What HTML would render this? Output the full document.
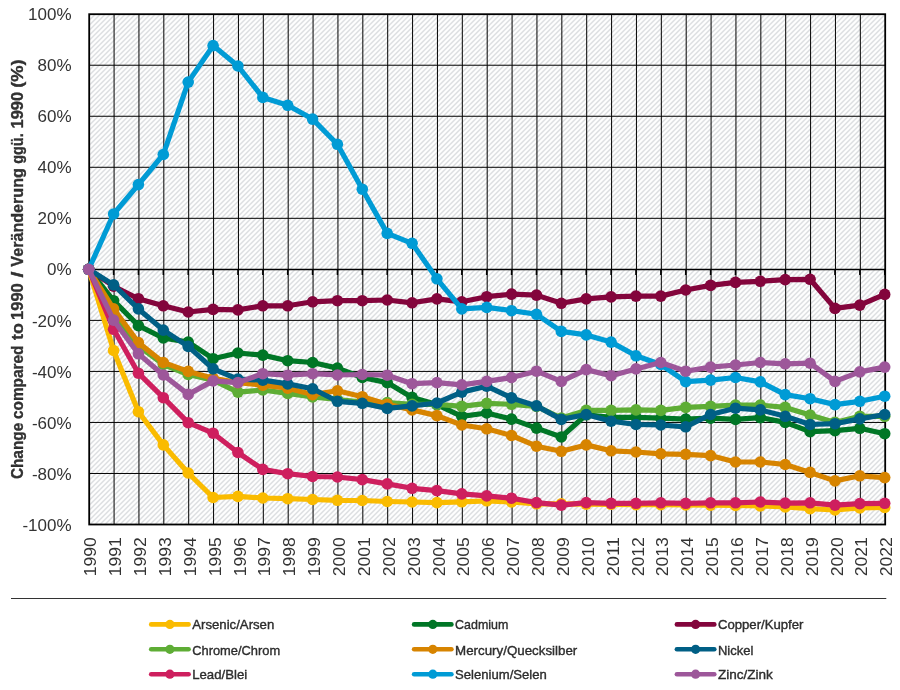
<!DOCTYPE html>
<html lang="de"><head><meta charset="utf-8"><title>Heavy metal emissions</title>
<style>html,body{margin:0;padding:0;background:#fff}svg{display:block}text{font-family:"Liberation Sans",sans-serif;fill:#333333}</style></head><body>
<svg width="900" height="690" viewBox="0 0 900 690">
<defs><pattern id="h" x="-0.5" y="0" width="5" height="5" patternUnits="userSpaceOnUse"><path d="M-1,6 L6,-1 M-1,1 L1,-1 M4,6 L6,4" stroke="#ced1d4" stroke-width="1.1" fill="none"/></pattern></defs>
<rect width="900" height="690" fill="#fff"/>
<rect x="89.20" y="14.20" width="796.00" height="510.30" fill="url(#h)"/>
<path d="M89.20,65.23 H885.20 M89.20,116.26 H885.20 M89.20,167.29 H885.20 M89.20,218.32 H885.20 M89.20,320.38 H885.20 M89.20,371.41 H885.20 M89.20,422.44 H885.20 M89.20,473.47 H885.20 M114.08,14.20 V524.50 M138.95,14.20 V524.50 M163.82,14.20 V524.50 M188.70,14.20 V524.50 M213.57,14.20 V524.50 M238.45,14.20 V524.50 M263.32,14.20 V524.50 M288.20,14.20 V524.50 M313.07,14.20 V524.50 M337.95,14.20 V524.50 M362.82,14.20 V524.50 M387.70,14.20 V524.50 M412.57,14.20 V524.50 M437.45,14.20 V524.50 M462.32,14.20 V524.50 M487.20,14.20 V524.50 M512.08,14.20 V524.50 M536.95,14.20 V524.50 M561.83,14.20 V524.50 M586.70,14.20 V524.50 M611.58,14.20 V524.50 M636.45,14.20 V524.50 M661.33,14.20 V524.50 M686.20,14.20 V524.50 M711.08,14.20 V524.50 M735.95,14.20 V524.50 M760.83,14.20 V524.50 M785.70,14.20 V524.50 M810.58,14.20 V524.50 M835.45,14.20 V524.50 M860.33,14.20 V524.50" stroke="#000" stroke-width="1" fill="none"/>
<path d="M89.20,269.60 H885.20 M88.70,269.60 v5.5 M113.58,269.60 v5.5 M138.45,269.60 v5.5 M163.32,269.60 v5.5 M188.20,269.60 v5.5 M213.07,269.60 v5.5 M237.95,269.60 v5.5 M262.82,269.60 v5.5 M287.70,269.60 v5.5 M312.57,269.60 v5.5 M337.45,269.60 v5.5 M362.32,269.60 v5.5 M387.20,269.60 v5.5 M412.07,269.60 v5.5 M436.95,269.60 v5.5 M461.82,269.60 v5.5 M486.70,269.60 v5.5 M511.58,269.60 v5.5 M536.45,269.60 v5.5 M561.33,269.60 v5.5 M586.20,269.60 v5.5 M611.08,269.60 v5.5 M635.95,269.60 v5.5 M660.83,269.60 v5.5 M685.70,269.60 v5.5 M710.58,269.60 v5.5 M735.45,269.60 v5.5 M760.33,269.60 v5.5 M785.20,269.60 v5.5 M810.08,269.60 v5.5 M834.95,269.60 v5.5 M859.83,269.60 v5.5 M884.70,269.60 v5.5" stroke="#000" stroke-width="1.5" fill="none"/>
<rect x="89.20" y="14.20" width="796.00" height="510.30" fill="none" stroke="#000" stroke-width="1.8"/>
<g fill="#FABB00"><polyline points="88.7,269.3 113.6,350.5 138.4,411.7 163.3,444.9 188.2,473.0 213.1,497.5 237.9,496.4 262.8,498.0 287.7,498.7 312.6,499.5 337.4,500.3 362.3,500.5 387.2,501.5 412.1,502.0 436.9,502.6 461.8,501.8 486.7,500.8 511.6,502.0 536.5,503.8 561.3,503.8 586.2,504.1 611.1,504.3 636.0,504.6 660.8,504.6 685.7,504.9 710.6,505.1 735.5,505.4 760.3,505.9 785.2,506.9 810.1,508.7 835.0,510.0 859.8,507.9 884.7,507.4" fill="none" stroke="#FABB00" stroke-width="5.2" stroke-linejoin="round" stroke-linecap="round"/>
<circle cx="88.7" cy="269.3" r="5.8"/><circle cx="113.6" cy="350.5" r="5.8"/><circle cx="138.4" cy="411.7" r="5.8"/><circle cx="163.3" cy="444.9" r="5.8"/><circle cx="188.2" cy="473.0" r="5.8"/><circle cx="213.1" cy="497.5" r="5.8"/><circle cx="237.9" cy="496.4" r="5.8"/><circle cx="262.8" cy="498.0" r="5.8"/><circle cx="287.7" cy="498.7" r="5.8"/><circle cx="312.6" cy="499.5" r="5.8"/><circle cx="337.4" cy="500.3" r="5.8"/><circle cx="362.3" cy="500.5" r="5.8"/><circle cx="387.2" cy="501.5" r="5.8"/><circle cx="412.1" cy="502.0" r="5.8"/><circle cx="436.9" cy="502.6" r="5.8"/><circle cx="461.8" cy="501.8" r="5.8"/><circle cx="486.7" cy="500.8" r="5.8"/><circle cx="511.6" cy="502.0" r="5.8"/><circle cx="536.5" cy="503.8" r="5.8"/><circle cx="561.3" cy="503.8" r="5.8"/><circle cx="586.2" cy="504.1" r="5.8"/><circle cx="611.1" cy="504.3" r="5.8"/><circle cx="636.0" cy="504.6" r="5.8"/><circle cx="660.8" cy="504.6" r="5.8"/><circle cx="685.7" cy="504.9" r="5.8"/><circle cx="710.6" cy="505.1" r="5.8"/><circle cx="735.5" cy="505.4" r="5.8"/><circle cx="760.3" cy="505.9" r="5.8"/><circle cx="785.2" cy="506.9" r="5.8"/><circle cx="810.1" cy="508.7" r="5.8"/><circle cx="835.0" cy="510.0" r="5.8"/><circle cx="859.8" cy="507.9" r="5.8"/><circle cx="884.7" cy="507.4" r="5.8"/></g>
<g fill="#007626"><polyline points="88.7,269.3 113.6,300.7 138.4,325.7 163.3,338.0 188.2,342.1 213.1,358.7 237.9,353.0 262.8,355.1 287.7,360.7 312.6,362.5 337.4,368.1 362.3,377.5 387.2,382.6 412.1,397.4 436.9,404.6 461.8,416.3 486.7,413.0 511.6,419.1 536.5,428.1 561.3,437.0 586.2,414.8 611.1,417.3 636.0,417.3 660.8,418.1 685.7,419.1 710.6,418.1 735.5,419.4 760.3,417.6 785.2,422.4 810.1,431.6 835.0,430.6 859.8,428.3 884.7,433.7" fill="none" stroke="#007626" stroke-width="5.2" stroke-linejoin="round" stroke-linecap="round"/>
<circle cx="88.7" cy="269.3" r="5.8"/><circle cx="113.6" cy="300.7" r="5.8"/><circle cx="138.4" cy="325.7" r="5.8"/><circle cx="163.3" cy="338.0" r="5.8"/><circle cx="188.2" cy="342.1" r="5.8"/><circle cx="213.1" cy="358.7" r="5.8"/><circle cx="237.9" cy="353.0" r="5.8"/><circle cx="262.8" cy="355.1" r="5.8"/><circle cx="287.7" cy="360.7" r="5.8"/><circle cx="312.6" cy="362.5" r="5.8"/><circle cx="337.4" cy="368.1" r="5.8"/><circle cx="362.3" cy="377.5" r="5.8"/><circle cx="387.2" cy="382.6" r="5.8"/><circle cx="412.1" cy="397.4" r="5.8"/><circle cx="436.9" cy="404.6" r="5.8"/><circle cx="461.8" cy="416.3" r="5.8"/><circle cx="486.7" cy="413.0" r="5.8"/><circle cx="511.6" cy="419.1" r="5.8"/><circle cx="536.5" cy="428.1" r="5.8"/><circle cx="561.3" cy="437.0" r="5.8"/><circle cx="586.2" cy="414.8" r="5.8"/><circle cx="611.1" cy="417.3" r="5.8"/><circle cx="636.0" cy="417.3" r="5.8"/><circle cx="660.8" cy="418.1" r="5.8"/><circle cx="685.7" cy="419.1" r="5.8"/><circle cx="710.6" cy="418.1" r="5.8"/><circle cx="735.5" cy="419.4" r="5.8"/><circle cx="760.3" cy="417.6" r="5.8"/><circle cx="785.2" cy="422.4" r="5.8"/><circle cx="810.1" cy="431.6" r="5.8"/><circle cx="835.0" cy="430.6" r="5.8"/><circle cx="859.8" cy="428.3" r="5.8"/><circle cx="884.7" cy="433.7" r="5.8"/></g>
<g fill="#83053C"><polyline points="88.7,269.3 113.6,286.2 138.4,298.7 163.3,305.8 188.2,312.0 213.1,309.4 237.9,309.9 262.8,305.8 287.7,305.8 312.6,301.8 337.4,300.7 362.3,300.7 387.2,300.0 412.1,302.8 436.9,298.9 461.8,301.8 486.7,296.7 511.6,294.1 536.5,295.1 561.3,303.3 586.2,298.9 611.1,296.9 636.0,296.1 660.8,296.1 685.7,290.0 710.6,285.4 735.5,282.4 760.3,281.3 785.2,279.6 810.1,279.3 835.0,308.4 859.8,305.1 884.7,294.4" fill="none" stroke="#83053C" stroke-width="5.2" stroke-linejoin="round" stroke-linecap="round"/>
<circle cx="88.7" cy="269.3" r="5.8"/><circle cx="113.6" cy="286.2" r="5.8"/><circle cx="138.4" cy="298.7" r="5.8"/><circle cx="163.3" cy="305.8" r="5.8"/><circle cx="188.2" cy="312.0" r="5.8"/><circle cx="213.1" cy="309.4" r="5.8"/><circle cx="237.9" cy="309.9" r="5.8"/><circle cx="262.8" cy="305.8" r="5.8"/><circle cx="287.7" cy="305.8" r="5.8"/><circle cx="312.6" cy="301.8" r="5.8"/><circle cx="337.4" cy="300.7" r="5.8"/><circle cx="362.3" cy="300.7" r="5.8"/><circle cx="387.2" cy="300.0" r="5.8"/><circle cx="412.1" cy="302.8" r="5.8"/><circle cx="436.9" cy="298.9" r="5.8"/><circle cx="461.8" cy="301.8" r="5.8"/><circle cx="486.7" cy="296.7" r="5.8"/><circle cx="511.6" cy="294.1" r="5.8"/><circle cx="536.5" cy="295.1" r="5.8"/><circle cx="561.3" cy="303.3" r="5.8"/><circle cx="586.2" cy="298.9" r="5.8"/><circle cx="611.1" cy="296.9" r="5.8"/><circle cx="636.0" cy="296.1" r="5.8"/><circle cx="660.8" cy="296.1" r="5.8"/><circle cx="685.7" cy="290.0" r="5.8"/><circle cx="710.6" cy="285.4" r="5.8"/><circle cx="735.5" cy="282.4" r="5.8"/><circle cx="760.3" cy="281.3" r="5.8"/><circle cx="785.2" cy="279.6" r="5.8"/><circle cx="810.1" cy="279.3" r="5.8"/><circle cx="835.0" cy="308.4" r="5.8"/><circle cx="859.8" cy="305.1" r="5.8"/><circle cx="884.7" cy="294.4" r="5.8"/></g>
<g fill="#5EAD35"><polyline points="88.7,269.3 113.6,312.7 138.4,345.9 163.3,364.5 188.2,374.5 213.1,380.1 237.9,392.1 262.8,390.0 287.7,393.4 312.6,396.9 337.4,399.5 362.3,402.0 387.2,402.5 412.1,404.3 436.9,404.3 461.8,406.4 486.7,403.3 511.6,404.3 536.5,406.4 561.3,418.1 586.2,410.4 611.1,410.4 636.0,409.9 660.8,410.4 685.7,407.4 710.6,406.4 735.5,405.1 760.3,405.1 785.2,407.4 810.1,415.0 835.0,422.4 859.8,416.3 884.7,416.3" fill="none" stroke="#5EAD35" stroke-width="5.2" stroke-linejoin="round" stroke-linecap="round"/>
<circle cx="88.7" cy="269.3" r="5.8"/><circle cx="113.6" cy="312.7" r="5.8"/><circle cx="138.4" cy="345.9" r="5.8"/><circle cx="163.3" cy="364.5" r="5.8"/><circle cx="188.2" cy="374.5" r="5.8"/><circle cx="213.1" cy="380.1" r="5.8"/><circle cx="237.9" cy="392.1" r="5.8"/><circle cx="262.8" cy="390.0" r="5.8"/><circle cx="287.7" cy="393.4" r="5.8"/><circle cx="312.6" cy="396.9" r="5.8"/><circle cx="337.4" cy="399.5" r="5.8"/><circle cx="362.3" cy="402.0" r="5.8"/><circle cx="387.2" cy="402.5" r="5.8"/><circle cx="412.1" cy="404.3" r="5.8"/><circle cx="436.9" cy="404.3" r="5.8"/><circle cx="461.8" cy="406.4" r="5.8"/><circle cx="486.7" cy="403.3" r="5.8"/><circle cx="511.6" cy="404.3" r="5.8"/><circle cx="536.5" cy="406.4" r="5.8"/><circle cx="561.3" cy="418.1" r="5.8"/><circle cx="586.2" cy="410.4" r="5.8"/><circle cx="611.1" cy="410.4" r="5.8"/><circle cx="636.0" cy="409.9" r="5.8"/><circle cx="660.8" cy="410.4" r="5.8"/><circle cx="685.7" cy="407.4" r="5.8"/><circle cx="710.6" cy="406.4" r="5.8"/><circle cx="735.5" cy="405.1" r="5.8"/><circle cx="760.3" cy="405.1" r="5.8"/><circle cx="785.2" cy="407.4" r="5.8"/><circle cx="810.1" cy="415.0" r="5.8"/><circle cx="835.0" cy="422.4" r="5.8"/><circle cx="859.8" cy="416.3" r="5.8"/><circle cx="884.7" cy="416.3" r="5.8"/></g>
<g fill="#D78400"><polyline points="88.7,269.3 113.6,308.9 138.4,342.6 163.3,362.5 188.2,371.4 213.1,378.3 237.9,382.6 262.8,385.2 287.7,388.2 312.6,394.6 337.4,390.8 362.3,396.7 387.2,404.3 412.1,409.9 436.9,415.6 461.8,425.0 486.7,428.8 511.6,435.5 536.5,446.2 561.3,451.3 586.2,444.9 611.1,450.8 636.0,452.0 660.8,453.8 685.7,454.3 710.6,455.6 735.5,462.0 760.3,462.0 785.2,464.5 810.1,472.4 835.0,480.9 859.8,475.8 884.7,477.6" fill="none" stroke="#D78400" stroke-width="5.2" stroke-linejoin="round" stroke-linecap="round"/>
<circle cx="88.7" cy="269.3" r="5.8"/><circle cx="113.6" cy="308.9" r="5.8"/><circle cx="138.4" cy="342.6" r="5.8"/><circle cx="163.3" cy="362.5" r="5.8"/><circle cx="188.2" cy="371.4" r="5.8"/><circle cx="213.1" cy="378.3" r="5.8"/><circle cx="237.9" cy="382.6" r="5.8"/><circle cx="262.8" cy="385.2" r="5.8"/><circle cx="287.7" cy="388.2" r="5.8"/><circle cx="312.6" cy="394.6" r="5.8"/><circle cx="337.4" cy="390.8" r="5.8"/><circle cx="362.3" cy="396.7" r="5.8"/><circle cx="387.2" cy="404.3" r="5.8"/><circle cx="412.1" cy="409.9" r="5.8"/><circle cx="436.9" cy="415.6" r="5.8"/><circle cx="461.8" cy="425.0" r="5.8"/><circle cx="486.7" cy="428.8" r="5.8"/><circle cx="511.6" cy="435.5" r="5.8"/><circle cx="536.5" cy="446.2" r="5.8"/><circle cx="561.3" cy="451.3" r="5.8"/><circle cx="586.2" cy="444.9" r="5.8"/><circle cx="611.1" cy="450.8" r="5.8"/><circle cx="636.0" cy="452.0" r="5.8"/><circle cx="660.8" cy="453.8" r="5.8"/><circle cx="685.7" cy="454.3" r="5.8"/><circle cx="710.6" cy="455.6" r="5.8"/><circle cx="735.5" cy="462.0" r="5.8"/><circle cx="760.3" cy="462.0" r="5.8"/><circle cx="785.2" cy="464.5" r="5.8"/><circle cx="810.1" cy="472.4" r="5.8"/><circle cx="835.0" cy="480.9" r="5.8"/><circle cx="859.8" cy="475.8" r="5.8"/><circle cx="884.7" cy="477.6" r="5.8"/></g>
<g fill="#005F85"><polyline points="88.7,269.3 113.6,284.9 138.4,308.9 163.3,330.1 188.2,346.4 213.1,368.9 237.9,379.1 262.8,380.1 287.7,383.9 312.6,388.8 337.4,401.3 362.3,403.3 387.2,408.4 412.1,405.9 436.9,403.0 461.8,392.1 486.7,386.2 511.6,397.9 536.5,405.9 561.3,419.4 586.2,414.5 611.1,421.2 636.0,424.5 660.8,425.0 685.7,426.8 710.6,414.5 735.5,408.2 760.3,409.9 785.2,416.3 810.1,424.5 835.0,423.7 859.8,418.9 884.7,414.5" fill="none" stroke="#005F85" stroke-width="5.2" stroke-linejoin="round" stroke-linecap="round"/>
<circle cx="88.7" cy="269.3" r="5.8"/><circle cx="113.6" cy="284.9" r="5.8"/><circle cx="138.4" cy="308.9" r="5.8"/><circle cx="163.3" cy="330.1" r="5.8"/><circle cx="188.2" cy="346.4" r="5.8"/><circle cx="213.1" cy="368.9" r="5.8"/><circle cx="237.9" cy="379.1" r="5.8"/><circle cx="262.8" cy="380.1" r="5.8"/><circle cx="287.7" cy="383.9" r="5.8"/><circle cx="312.6" cy="388.8" r="5.8"/><circle cx="337.4" cy="401.3" r="5.8"/><circle cx="362.3" cy="403.3" r="5.8"/><circle cx="387.2" cy="408.4" r="5.8"/><circle cx="412.1" cy="405.9" r="5.8"/><circle cx="436.9" cy="403.0" r="5.8"/><circle cx="461.8" cy="392.1" r="5.8"/><circle cx="486.7" cy="386.2" r="5.8"/><circle cx="511.6" cy="397.9" r="5.8"/><circle cx="536.5" cy="405.9" r="5.8"/><circle cx="561.3" cy="419.4" r="5.8"/><circle cx="586.2" cy="414.5" r="5.8"/><circle cx="611.1" cy="421.2" r="5.8"/><circle cx="636.0" cy="424.5" r="5.8"/><circle cx="660.8" cy="425.0" r="5.8"/><circle cx="685.7" cy="426.8" r="5.8"/><circle cx="710.6" cy="414.5" r="5.8"/><circle cx="735.5" cy="408.2" r="5.8"/><circle cx="760.3" cy="409.9" r="5.8"/><circle cx="785.2" cy="416.3" r="5.8"/><circle cx="810.1" cy="424.5" r="5.8"/><circle cx="835.0" cy="423.7" r="5.8"/><circle cx="859.8" cy="418.9" r="5.8"/><circle cx="884.7" cy="414.5" r="5.8"/></g>
<g fill="#CE1F5E"><polyline points="88.7,269.3 113.6,329.3 138.4,373.2 163.3,397.7 188.2,422.7 213.1,433.2 237.9,452.5 262.8,469.4 287.7,473.7 312.6,476.5 337.4,477.0 362.3,479.6 387.2,483.9 412.1,488.3 436.9,490.6 461.8,493.9 486.7,495.9 511.6,498.2 536.5,502.6 561.3,505.1 586.2,502.6 611.1,503.3 636.0,503.3 660.8,502.8 685.7,503.3 710.6,502.8 735.5,502.8 760.3,502.0 785.2,503.1 810.1,502.8 835.0,505.1 859.8,503.6 884.7,503.3" fill="none" stroke="#CE1F5E" stroke-width="5.2" stroke-linejoin="round" stroke-linecap="round"/>
<circle cx="88.7" cy="269.3" r="5.8"/><circle cx="113.6" cy="329.3" r="5.8"/><circle cx="138.4" cy="373.2" r="5.8"/><circle cx="163.3" cy="397.7" r="5.8"/><circle cx="188.2" cy="422.7" r="5.8"/><circle cx="213.1" cy="433.2" r="5.8"/><circle cx="237.9" cy="452.5" r="5.8"/><circle cx="262.8" cy="469.4" r="5.8"/><circle cx="287.7" cy="473.7" r="5.8"/><circle cx="312.6" cy="476.5" r="5.8"/><circle cx="337.4" cy="477.0" r="5.8"/><circle cx="362.3" cy="479.6" r="5.8"/><circle cx="387.2" cy="483.9" r="5.8"/><circle cx="412.1" cy="488.3" r="5.8"/><circle cx="436.9" cy="490.6" r="5.8"/><circle cx="461.8" cy="493.9" r="5.8"/><circle cx="486.7" cy="495.9" r="5.8"/><circle cx="511.6" cy="498.2" r="5.8"/><circle cx="536.5" cy="502.6" r="5.8"/><circle cx="561.3" cy="505.1" r="5.8"/><circle cx="586.2" cy="502.6" r="5.8"/><circle cx="611.1" cy="503.3" r="5.8"/><circle cx="636.0" cy="503.3" r="5.8"/><circle cx="660.8" cy="502.8" r="5.8"/><circle cx="685.7" cy="503.3" r="5.8"/><circle cx="710.6" cy="502.8" r="5.8"/><circle cx="735.5" cy="502.8" r="5.8"/><circle cx="760.3" cy="502.0" r="5.8"/><circle cx="785.2" cy="503.1" r="5.8"/><circle cx="810.1" cy="502.8" r="5.8"/><circle cx="835.0" cy="505.1" r="5.8"/><circle cx="859.8" cy="503.6" r="5.8"/><circle cx="884.7" cy="503.3" r="5.8"/></g>
<g fill="#009BD5"><polyline points="88.7,269.3 113.6,214.0 138.4,184.6 163.3,154.5 188.2,82.1 213.1,45.6 237.9,66.0 262.8,97.4 287.7,105.3 312.6,119.1 337.4,144.3 362.3,189.2 387.2,233.4 412.1,243.3 436.9,278.8 461.8,308.9 486.7,307.4 511.6,310.7 536.5,314.3 561.3,331.4 586.2,334.9 611.1,342.1 636.0,355.8 660.8,364.5 685.7,381.6 710.6,380.1 735.5,377.5 760.3,381.9 785.2,394.6 810.1,398.7 835.0,404.6 859.8,401.3 884.7,396.2" fill="none" stroke="#009BD5" stroke-width="5.2" stroke-linejoin="round" stroke-linecap="round"/>
<circle cx="88.7" cy="269.3" r="5.8"/><circle cx="113.6" cy="214.0" r="5.8"/><circle cx="138.4" cy="184.6" r="5.8"/><circle cx="163.3" cy="154.5" r="5.8"/><circle cx="188.2" cy="82.1" r="5.8"/><circle cx="213.1" cy="45.6" r="5.8"/><circle cx="237.9" cy="66.0" r="5.8"/><circle cx="262.8" cy="97.4" r="5.8"/><circle cx="287.7" cy="105.3" r="5.8"/><circle cx="312.6" cy="119.1" r="5.8"/><circle cx="337.4" cy="144.3" r="5.8"/><circle cx="362.3" cy="189.2" r="5.8"/><circle cx="387.2" cy="233.4" r="5.8"/><circle cx="412.1" cy="243.3" r="5.8"/><circle cx="436.9" cy="278.8" r="5.8"/><circle cx="461.8" cy="308.9" r="5.8"/><circle cx="486.7" cy="307.4" r="5.8"/><circle cx="511.6" cy="310.7" r="5.8"/><circle cx="536.5" cy="314.3" r="5.8"/><circle cx="561.3" cy="331.4" r="5.8"/><circle cx="586.2" cy="334.9" r="5.8"/><circle cx="611.1" cy="342.1" r="5.8"/><circle cx="636.0" cy="355.8" r="5.8"/><circle cx="660.8" cy="364.5" r="5.8"/><circle cx="685.7" cy="381.6" r="5.8"/><circle cx="710.6" cy="380.1" r="5.8"/><circle cx="735.5" cy="377.5" r="5.8"/><circle cx="760.3" cy="381.9" r="5.8"/><circle cx="785.2" cy="394.6" r="5.8"/><circle cx="810.1" cy="398.7" r="5.8"/><circle cx="835.0" cy="404.6" r="5.8"/><circle cx="859.8" cy="401.3" r="5.8"/><circle cx="884.7" cy="396.2" r="5.8"/></g>
<g fill="#9D579A"><polyline points="88.7,269.3 113.6,320.1 138.4,353.8 163.3,375.0 188.2,394.4 213.1,380.9 237.9,382.6 262.8,373.7 287.7,375.2 312.6,373.7 337.4,375.0 362.3,374.5 387.2,375.2 412.1,383.7 436.9,382.6 461.8,384.9 486.7,381.4 511.6,377.5 536.5,371.2 561.3,381.4 586.2,369.6 611.1,375.7 636.0,368.9 660.8,362.5 685.7,371.2 710.6,367.1 735.5,365.0 760.3,362.5 785.2,363.8 810.1,363.2 835.0,381.4 859.8,371.9 884.7,367.1" fill="none" stroke="#9D579A" stroke-width="5.2" stroke-linejoin="round" stroke-linecap="round"/>
<circle cx="88.7" cy="269.3" r="5.8"/><circle cx="113.6" cy="320.1" r="5.8"/><circle cx="138.4" cy="353.8" r="5.8"/><circle cx="163.3" cy="375.0" r="5.8"/><circle cx="188.2" cy="394.4" r="5.8"/><circle cx="213.1" cy="380.9" r="5.8"/><circle cx="237.9" cy="382.6" r="5.8"/><circle cx="262.8" cy="373.7" r="5.8"/><circle cx="287.7" cy="375.2" r="5.8"/><circle cx="312.6" cy="373.7" r="5.8"/><circle cx="337.4" cy="375.0" r="5.8"/><circle cx="362.3" cy="374.5" r="5.8"/><circle cx="387.2" cy="375.2" r="5.8"/><circle cx="412.1" cy="383.7" r="5.8"/><circle cx="436.9" cy="382.6" r="5.8"/><circle cx="461.8" cy="384.9" r="5.8"/><circle cx="486.7" cy="381.4" r="5.8"/><circle cx="511.6" cy="377.5" r="5.8"/><circle cx="536.5" cy="371.2" r="5.8"/><circle cx="561.3" cy="381.4" r="5.8"/><circle cx="586.2" cy="369.6" r="5.8"/><circle cx="611.1" cy="375.7" r="5.8"/><circle cx="636.0" cy="368.9" r="5.8"/><circle cx="660.8" cy="362.5" r="5.8"/><circle cx="685.7" cy="371.2" r="5.8"/><circle cx="710.6" cy="367.1" r="5.8"/><circle cx="735.5" cy="365.0" r="5.8"/><circle cx="760.3" cy="362.5" r="5.8"/><circle cx="785.2" cy="363.8" r="5.8"/><circle cx="810.1" cy="363.2" r="5.8"/><circle cx="835.0" cy="381.4" r="5.8"/><circle cx="859.8" cy="371.9" r="5.8"/><circle cx="884.7" cy="367.1" r="5.8"/></g>
<text x="71.6" y="20.3" font-size="17" text-anchor="end">100%</text>
<text x="71.6" y="71.3" font-size="17" text-anchor="end">80%</text>
<text x="71.6" y="122.4" font-size="17" text-anchor="end">60%</text>
<text x="71.6" y="173.4" font-size="17" text-anchor="end">40%</text>
<text x="71.6" y="224.4" font-size="17" text-anchor="end">20%</text>
<text x="71.6" y="275.4" font-size="17" text-anchor="end">0%</text>
<text x="71.6" y="326.5" font-size="17" text-anchor="end">-20%</text>
<text x="71.6" y="377.5" font-size="17" text-anchor="end">-40%</text>
<text x="71.6" y="428.5" font-size="17" text-anchor="end">-60%</text>
<text x="71.6" y="479.6" font-size="17" text-anchor="end">-80%</text>
<text x="71.6" y="530.6" font-size="17" text-anchor="end">-100%</text>
<text transform="translate(96.3,576.3) rotate(-90)" font-size="17.2" textLength="39.2" lengthAdjust="spacingAndGlyphs">1990</text>
<text transform="translate(121.2,576.3) rotate(-90)" font-size="17.2" textLength="39.2" lengthAdjust="spacingAndGlyphs">1991</text>
<text transform="translate(146.0,576.3) rotate(-90)" font-size="17.2" textLength="39.2" lengthAdjust="spacingAndGlyphs">1992</text>
<text transform="translate(170.9,576.3) rotate(-90)" font-size="17.2" textLength="39.2" lengthAdjust="spacingAndGlyphs">1993</text>
<text transform="translate(195.8,576.3) rotate(-90)" font-size="17.2" textLength="39.2" lengthAdjust="spacingAndGlyphs">1994</text>
<text transform="translate(220.7,576.3) rotate(-90)" font-size="17.2" textLength="39.2" lengthAdjust="spacingAndGlyphs">1995</text>
<text transform="translate(245.5,576.3) rotate(-90)" font-size="17.2" textLength="39.2" lengthAdjust="spacingAndGlyphs">1996</text>
<text transform="translate(270.4,576.3) rotate(-90)" font-size="17.2" textLength="39.2" lengthAdjust="spacingAndGlyphs">1997</text>
<text transform="translate(295.3,576.3) rotate(-90)" font-size="17.2" textLength="39.2" lengthAdjust="spacingAndGlyphs">1998</text>
<text transform="translate(320.2,576.3) rotate(-90)" font-size="17.2" textLength="39.2" lengthAdjust="spacingAndGlyphs">1999</text>
<text transform="translate(345.1,576.3) rotate(-90)" font-size="17.2" textLength="39.2" lengthAdjust="spacingAndGlyphs">2000</text>
<text transform="translate(369.9,576.3) rotate(-90)" font-size="17.2" textLength="39.2" lengthAdjust="spacingAndGlyphs">2001</text>
<text transform="translate(394.8,576.3) rotate(-90)" font-size="17.2" textLength="39.2" lengthAdjust="spacingAndGlyphs">2002</text>
<text transform="translate(419.7,576.3) rotate(-90)" font-size="17.2" textLength="39.2" lengthAdjust="spacingAndGlyphs">2003</text>
<text transform="translate(444.6,576.3) rotate(-90)" font-size="17.2" textLength="39.2" lengthAdjust="spacingAndGlyphs">2004</text>
<text transform="translate(469.4,576.3) rotate(-90)" font-size="17.2" textLength="39.2" lengthAdjust="spacingAndGlyphs">2005</text>
<text transform="translate(494.3,576.3) rotate(-90)" font-size="17.2" textLength="39.2" lengthAdjust="spacingAndGlyphs">2006</text>
<text transform="translate(519.2,576.3) rotate(-90)" font-size="17.2" textLength="39.2" lengthAdjust="spacingAndGlyphs">2007</text>
<text transform="translate(544.1,576.3) rotate(-90)" font-size="17.2" textLength="39.2" lengthAdjust="spacingAndGlyphs">2008</text>
<text transform="translate(568.9,576.3) rotate(-90)" font-size="17.2" textLength="39.2" lengthAdjust="spacingAndGlyphs">2009</text>
<text transform="translate(593.8,576.3) rotate(-90)" font-size="17.2" textLength="39.2" lengthAdjust="spacingAndGlyphs">2010</text>
<text transform="translate(618.7,576.3) rotate(-90)" font-size="17.2" textLength="39.2" lengthAdjust="spacingAndGlyphs">2011</text>
<text transform="translate(643.6,576.3) rotate(-90)" font-size="17.2" textLength="39.2" lengthAdjust="spacingAndGlyphs">2012</text>
<text transform="translate(668.4,576.3) rotate(-90)" font-size="17.2" textLength="39.2" lengthAdjust="spacingAndGlyphs">2013</text>
<text transform="translate(693.3,576.3) rotate(-90)" font-size="17.2" textLength="39.2" lengthAdjust="spacingAndGlyphs">2014</text>
<text transform="translate(718.2,576.3) rotate(-90)" font-size="17.2" textLength="39.2" lengthAdjust="spacingAndGlyphs">2015</text>
<text transform="translate(743.1,576.3) rotate(-90)" font-size="17.2" textLength="39.2" lengthAdjust="spacingAndGlyphs">2016</text>
<text transform="translate(767.9,576.3) rotate(-90)" font-size="17.2" textLength="39.2" lengthAdjust="spacingAndGlyphs">2017</text>
<text transform="translate(792.8,576.3) rotate(-90)" font-size="17.2" textLength="39.2" lengthAdjust="spacingAndGlyphs">2018</text>
<text transform="translate(817.7,576.3) rotate(-90)" font-size="17.2" textLength="39.2" lengthAdjust="spacingAndGlyphs">2019</text>
<text transform="translate(842.6,576.3) rotate(-90)" font-size="17.2" textLength="39.2" lengthAdjust="spacingAndGlyphs">2020</text>
<text transform="translate(867.4,576.3) rotate(-90)" font-size="17.2" textLength="39.2" lengthAdjust="spacingAndGlyphs">2021</text>
<text transform="translate(892.3,576.3) rotate(-90)" font-size="17.2" textLength="39.2" lengthAdjust="spacingAndGlyphs">2022</text>
<g font-size="16" font-weight="bold" fill="#222" stroke="#222" stroke-width="0.3">
<text transform="translate(22.5,479.1) rotate(-90)" textLength="56.3" lengthAdjust="spacingAndGlyphs">Change</text>
<text transform="translate(22.5,418.9) rotate(-90)" textLength="73.2" lengthAdjust="spacingAndGlyphs">compared</text>
<text transform="translate(22.5,339.9) rotate(-90)" textLength="16.8" lengthAdjust="spacingAndGlyphs">to</text>
<text transform="translate(22.5,319.9) rotate(-90)" textLength="36.6" lengthAdjust="spacingAndGlyphs">1990</text>
<text transform="translate(22.5,277.4) rotate(-90) scale(1.35,1.08)">/</text>
<text transform="translate(22.5,266.7) rotate(-90)" textLength="98.6" lengthAdjust="spacingAndGlyphs">Veränderung</text>
<text transform="translate(22.5,163.8) rotate(-90)" textLength="30.5" lengthAdjust="spacingAndGlyphs">ggü.</text>
<text transform="translate(22.5,128.4) rotate(-90)" textLength="36.4" lengthAdjust="spacingAndGlyphs">1990</text>
<text transform="translate(22.5,87.8) rotate(-90)" textLength="28.4" lengthAdjust="spacingAndGlyphs">(%)</text>
</g>
<path d="M11,598.5 H886.3" stroke="#333" stroke-width="1"/>
<path d="M151.2,624.4 H188.6" stroke="#FABB00" stroke-width="4.6" stroke-linecap="round"/><circle cx="169.9" cy="624.4" r="4.6" fill="#FABB00"/>
<text x="192.2" y="629.0" font-size="13" fill="#222" stroke="#222" stroke-width="0.35" textLength="82.1" lengthAdjust="spacingAndGlyphs">Arsenic/Arsen</text>
<path d="M414.1,624.4 H451.4" stroke="#007626" stroke-width="4.6" stroke-linecap="round"/><circle cx="432.8" cy="624.4" r="4.6" fill="#007626"/>
<text x="455.1" y="629.0" font-size="13" fill="#222" stroke="#222" stroke-width="0.35" textLength="53.3" lengthAdjust="spacingAndGlyphs">Cadmium</text>
<path d="M676.9,624.4 H714.3" stroke="#83053C" stroke-width="4.6" stroke-linecap="round"/><circle cx="695.6" cy="624.4" r="4.6" fill="#83053C"/>
<text x="717.9" y="629.0" font-size="13" fill="#222" stroke="#222" stroke-width="0.35" textLength="85.6" lengthAdjust="spacingAndGlyphs">Copper/Kupfer</text>
<path d="M151.2,649.3 H188.6" stroke="#5EAD35" stroke-width="4.6" stroke-linecap="round"/><circle cx="169.9" cy="649.3" r="4.6" fill="#5EAD35"/>
<text x="192.2" y="654.5" font-size="13" fill="#222" stroke="#222" stroke-width="0.35" textLength="88.0" lengthAdjust="spacingAndGlyphs">Chrome/Chrom</text>
<path d="M414.1,649.3 H451.4" stroke="#D78400" stroke-width="4.6" stroke-linecap="round"/><circle cx="432.8" cy="649.3" r="4.6" fill="#D78400"/>
<text x="455.1" y="654.5" font-size="13" fill="#222" stroke="#222" stroke-width="0.35" textLength="122.2" lengthAdjust="spacingAndGlyphs">Mercury/Quecksilber</text>
<path d="M676.9,649.3 H714.3" stroke="#005F85" stroke-width="4.6" stroke-linecap="round"/><circle cx="695.6" cy="649.3" r="4.6" fill="#005F85"/>
<text x="717.9" y="654.5" font-size="13" fill="#222" stroke="#222" stroke-width="0.35" textLength="35.4" lengthAdjust="spacingAndGlyphs">Nickel</text>
<path d="M151.2,674.2 H188.6" stroke="#CE1F5E" stroke-width="4.6" stroke-linecap="round"/><circle cx="169.9" cy="674.2" r="4.6" fill="#CE1F5E"/>
<text x="192.2" y="679.1" font-size="13" fill="#222" stroke="#222" stroke-width="0.35" textLength="55.0" lengthAdjust="spacingAndGlyphs">Lead/Blei</text>
<path d="M414.1,674.2 H451.4" stroke="#009BD5" stroke-width="4.6" stroke-linecap="round"/><circle cx="432.8" cy="674.2" r="4.6" fill="#009BD5"/>
<text x="455.1" y="679.1" font-size="13" fill="#222" stroke="#222" stroke-width="0.35" textLength="91.7" lengthAdjust="spacingAndGlyphs">Selenium/Selen</text>
<path d="M676.9,674.2 H714.3" stroke="#9D579A" stroke-width="4.6" stroke-linecap="round"/><circle cx="695.6" cy="674.2" r="4.6" fill="#9D579A"/>
<text x="717.9" y="679.1" font-size="13" fill="#222" stroke="#222" stroke-width="0.35" textLength="54.9" lengthAdjust="spacingAndGlyphs">Zinc/Zink</text>
</svg></body></html>
